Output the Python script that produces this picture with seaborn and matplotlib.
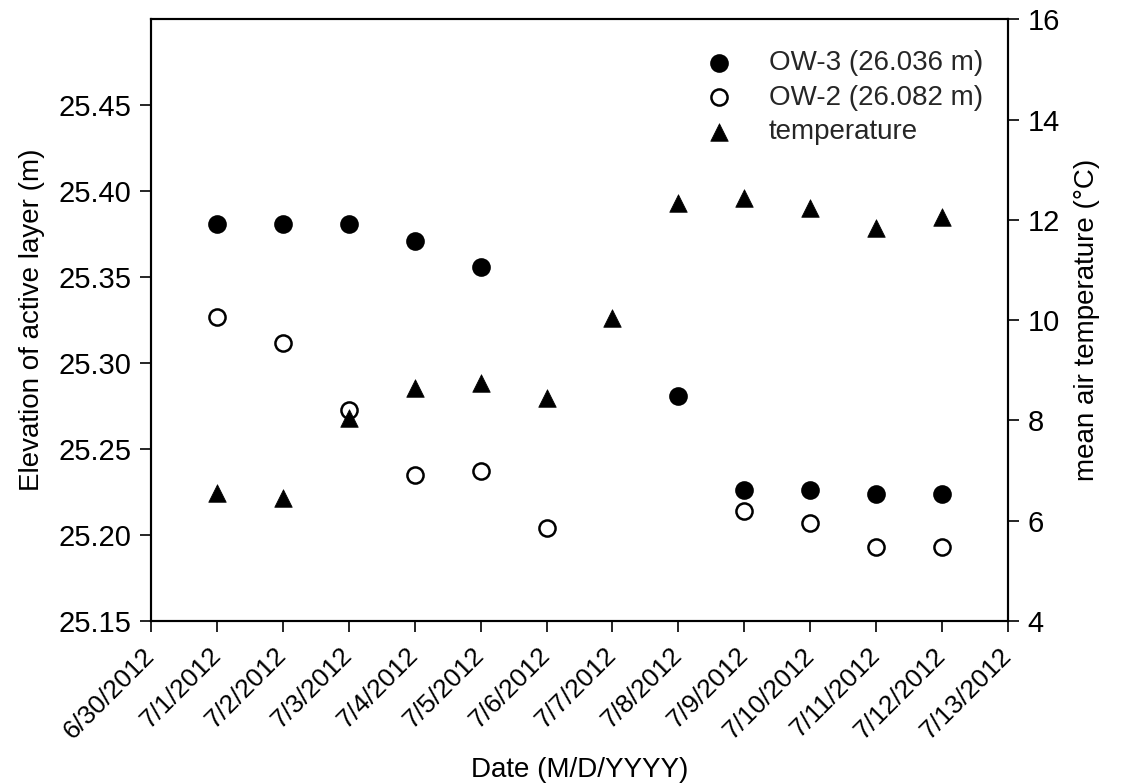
import pandas as pd
import seaborn as sns
import matplotlib.pyplot as plt
from matplotlib.transforms import ScaledTranslation

# data
ow3_dates = ["2012-07-01", "2012-07-02", "2012-07-03", "2012-07-04", "2012-07-05",
             "2012-07-08", "2012-07-09", "2012-07-10", "2012-07-11", "2012-07-12"]
ow3_elev = [25.381, 25.381, 25.381, 25.371, 25.356, 25.281, 25.226, 25.226, 25.224, 25.224]

ow2_dates = ["2012-07-01", "2012-07-02", "2012-07-03", "2012-07-04", "2012-07-05",
             "2012-07-06", "2012-07-09", "2012-07-10", "2012-07-11", "2012-07-12"]
ow2_elev = [25.327, 25.312, 25.273, 25.235, 25.237, 25.204, 25.214, 25.207, 25.193, 25.193]

temp_dates = ["2012-07-01", "2012-07-02", "2012-07-03", "2012-07-04", "2012-07-05", "2012-07-06",
              "2012-07-07", "2012-07-08", "2012-07-09", "2012-07-10", "2012-07-11", "2012-07-12"]
temp_vals = [6.55, 6.45, 8.05, 8.64, 8.74, 8.44, 10.04, 12.34, 12.43, 12.24, 11.83, 12.05]

tick_dates = pd.date_range("2012-06-30", "2012-07-13", freq="D")
tick_labels = [f"{d.month}/{d.day}/{d.year}" for d in tick_dates]

ow3 = pd.DataFrame({"date": pd.to_datetime(ow3_dates), "elev": ow3_elev})
ow2 = pd.DataFrame({"date": pd.to_datetime(ow2_dates), "elev": ow2_elev})
temp = pd.DataFrame({"date": pd.to_datetime(temp_dates), "t": temp_vals})

sns.set_style("ticks")
plt.rcParams['font.family'] = ['Liberation Sans', 'DejaVu Sans']

fig = plt.figure(figsize=(11.25, 7.84), dpi=100)
ax = fig.add_axes([0.1342, 0.2079, 0.7618, 0.7674])
ax2 = ax.twinx()

sns.scatterplot(data=ow3, x="date", y="elev", ax=ax, marker="o", s=150,
                color="black", edgecolor="black", linewidth=1.2, label="OW-3 (26.036 m)", legend=False)
sns.scatterplot(data=ow2, x="date", y="elev", ax=ax, marker="o", s=135,
                facecolor="white", edgecolor="black", linewidth=1.8, label="OW-2 (26.082 m)", legend=False)
sns.scatterplot(data=temp, x="date", y="t", ax=ax2, marker="^", s=160,
                color="black", edgecolor="black", linewidth=0.5, label="temperature", legend=False)

ax.set_xlim(tick_dates[0], tick_dates[-1])
ax.set_ylim(25.15, 25.50)
ax.set_yticks([25.15, 25.20, 25.25, 25.30, 25.35, 25.40, 25.45])
ax.set_yticklabels(["25.15", "25.20", "25.25", "25.30", "25.35", "25.40", "25.45"])
ax2.set_ylim(4, 16)
ax2.set_yticks([4, 6, 8, 10, 12, 14, 16])

ax.set_xticks(tick_dates)
ax.set_xticklabels(tick_labels, rotation=45, ha="right", rotation_mode="anchor")

for a in (ax, ax2):
    for s in a.spines.values():
        s.set_visible(True)
        s.set_linewidth(1.5)
        s.set_color("black")
    a.tick_params(direction="out", length=8, width=1.2, labelsize=21, colors="black", pad=6)
ax.tick_params(axis="x", labelsize=19, pad=8)

# nudge the slanted date labels a little left, like the original
shift = ScaledTranslation(-6 / 72, 0, fig.dpi_scale_trans)
for lab in ax.get_xticklabels():
    lab.set_transform(lab.get_transform() + shift)

ax.set_ylabel("Elevation of active layer (m)", fontsize=20, labelpad=10, color="black")
ax2.set_ylabel("mean air temperature (°C)", fontsize=20, labelpad=10, color="black")
ax.set_xlabel("Date (M/D/YYYY)", fontsize=20, labelpad=10, color="black")

h1, l1 = ax.get_legend_handles_labels()
h2, l2 = ax2.get_legend_handles_labels()
ax.legend(h1 + h2, l1 + l2, loc="upper right", bbox_to_anchor=(1.0, 0.99), frameon=False,
          fontsize=20, handletextpad=0.8, labelspacing=0.3, markerscale=1.0)

fig.savefig("out.png", dpi=100)
